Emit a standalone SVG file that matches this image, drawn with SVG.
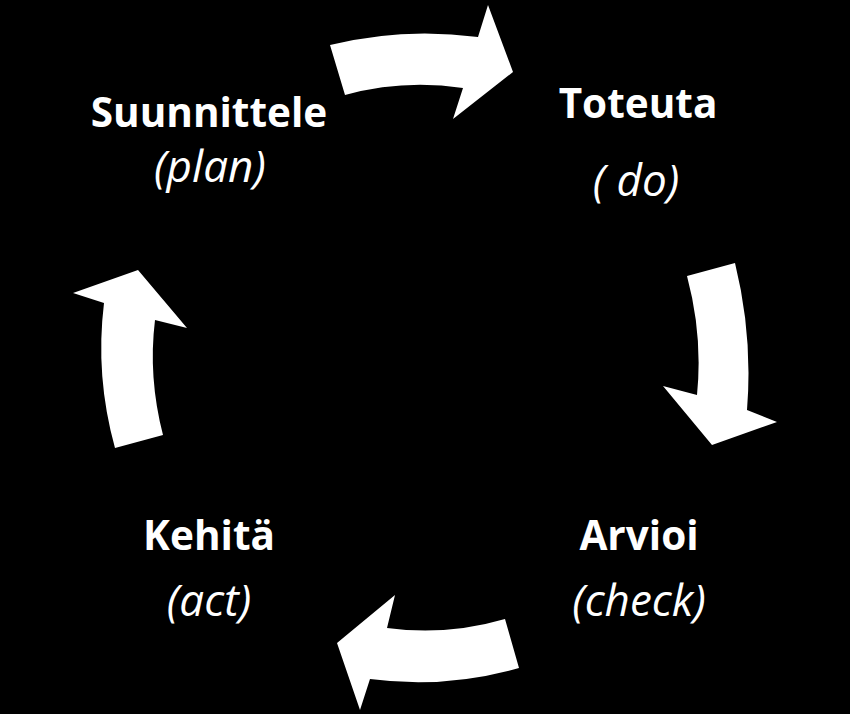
<svg xmlns="http://www.w3.org/2000/svg" width="850" height="714" viewBox="0 0 850 714">
<style>
.bg{fill:#000}
.arrow{fill:#fff}
.t{font-family:"Open Sans","Liberation Sans",sans-serif;fill:#fff;text-anchor:middle}
.b{font-weight:bold;font-size:40.5px}
.i{font-style:italic;font-size:44px}
</style>
<rect class="bg" x="0" y="0" width="850" height="714"/>
<g id="connectors">
<path id="arrow-top" class="arrow" d="M330,45 Q403,27 478,37 L488,5 L513,72 L453,119 L463,88 Q403,79 345,95 Z"/>
<path id="arrow-right" class="arrow" d="M735,263 Q753,336 747,410 L777,422 L712,445 L663,386 L697,395 Q703,336 687,276 Z"/>
<path id="arrow-bottom" class="arrow" d="M519,668 Q445,689 370,679 L360,710 L337,643 L395,595 L387,628 Q447,636 505,619 Z"/>
<path id="arrow-left" class="arrow" d="M115,448 Q95,376 104,303 L73,293 L138,270 L187,328 L155,320 Q148,377 163,435 Z"/>
</g>
<g id="node-plan">
<text class="t b" x="209" y="127">Suunnittele</text>
<text class="t i" x="210" y="182">(plan)</text>
</g>
<g id="node-do">
<text class="t b" x="638" y="118">Toteuta</text>
<text class="t i" x="636" y="196">( do)</text>
</g>
<g id="node-check">
<text class="t b" x="639" y="550">Arvioi</text>
<text class="t i" x="639" y="616">(check)</text>
</g>
<g id="node-act">
<text class="t b" x="209" y="550">Kehitä</text>
<text class="t i" x="209" y="616">(act)</text>
</g>
</svg>
